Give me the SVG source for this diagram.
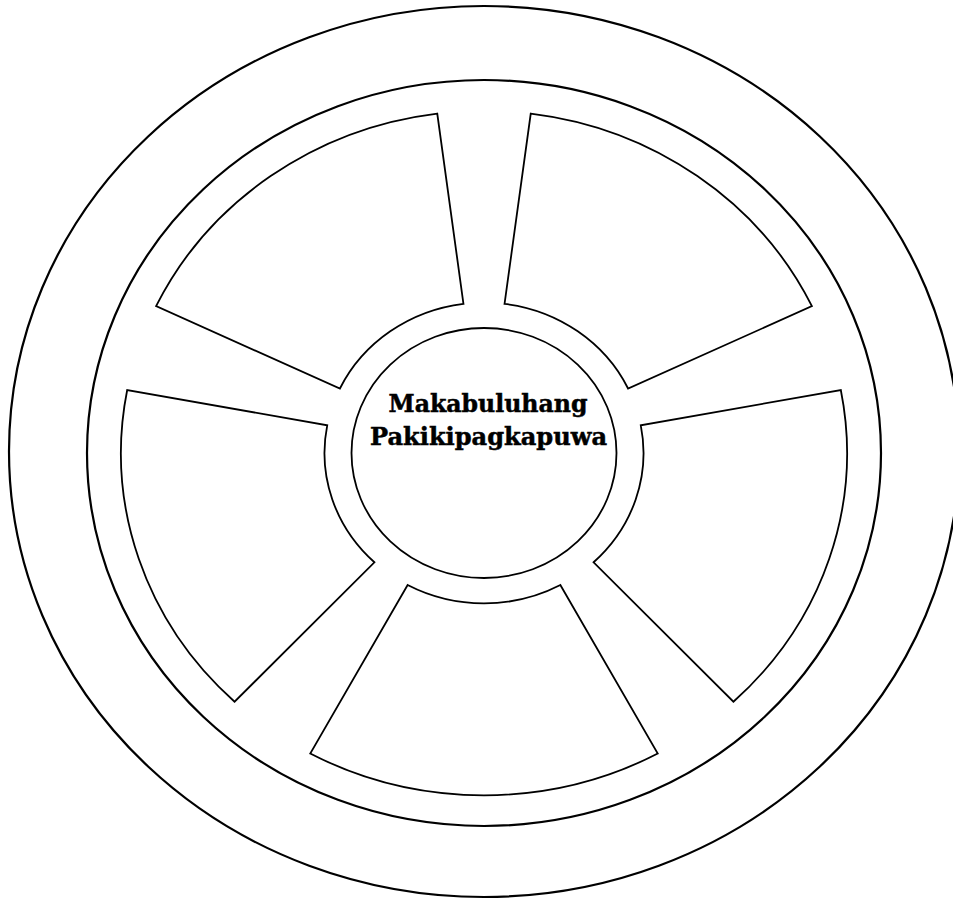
<svg xmlns="http://www.w3.org/2000/svg" width="953" height="899" viewBox="0 0 953 899">
  <style>
    .ring { fill: none; stroke: #000; stroke-width: 2.2; }
    .seg { fill: #fff; stroke: #000; stroke-width: 1.8; stroke-linejoin: miter; }
    .hub { fill: #fff; stroke: #000; stroke-width: 1.8; }
    .label { font-family: "DejaVu Serif", "Liberation Serif", serif; font-weight: bold; font-size: 24px; fill: #000; stroke: #000; stroke-width: 0.5; text-anchor: middle; }
  </style>
  <rect width="953" height="899" fill="#fff"/>
  <g id="outer-ring">
    <ellipse class="ring" cx="484" cy="451.5" rx="475" ry="445.5"/>
  </g>
  <g id="inner-ring">
    <ellipse class="ring" cx="484" cy="453" rx="397" ry="373"/>
  </g>
  <g id="segment-top-right">
    <path class="seg" d="M 530.75 113.55 A 363 342.3 0 0 1 811.91 306.17 L 628.08 388.49 A 159.5 150.4 0 0 0 504.54 303.85 Z"/>
  </g>
  <g id="segment-right">
    <path class="seg" d="M 840.81 390.03 A 363 342.3 0 0 1 733.41 701.71 L 593.59 562.28 A 159.5 150.4 0 0 0 640.78 425.33 Z"/>
  </g>
  <g id="segment-bottom">
    <path class="seg" d="M 657.76 753.53 A 363 342.3 0 0 1 310.24 753.53 L 407.65 585.05 A 159.5 150.4 0 0 0 560.35 585.05 Z"/>
  </g>
  <g id="segment-left">
    <path class="seg" d="M 234.59 701.71 A 363 342.3 0 0 1 127.19 390.03 L 327.22 425.33 A 159.5 150.4 0 0 0 374.41 562.28 Z"/>
  </g>
  <g id="segment-top-left">
    <path class="seg" d="M 156.09 306.17 A 363 342.3 0 0 1 437.25 113.55 L 463.46 303.85 A 159.5 150.4 0 0 0 339.92 388.49 Z"/>
  </g>
  <g id="hub">
    <ellipse class="hub" cx="484" cy="453" rx="132.5" ry="125"/>
    <text class="label" x="488" y="412" textLength="199" lengthAdjust="spacingAndGlyphs">Makabuluhang</text>
    <text class="label" x="488.5" y="445" textLength="237" lengthAdjust="spacingAndGlyphs">Pakikipagkapuwa</text>
  </g>
  <g id="connectors"/>
</svg>
